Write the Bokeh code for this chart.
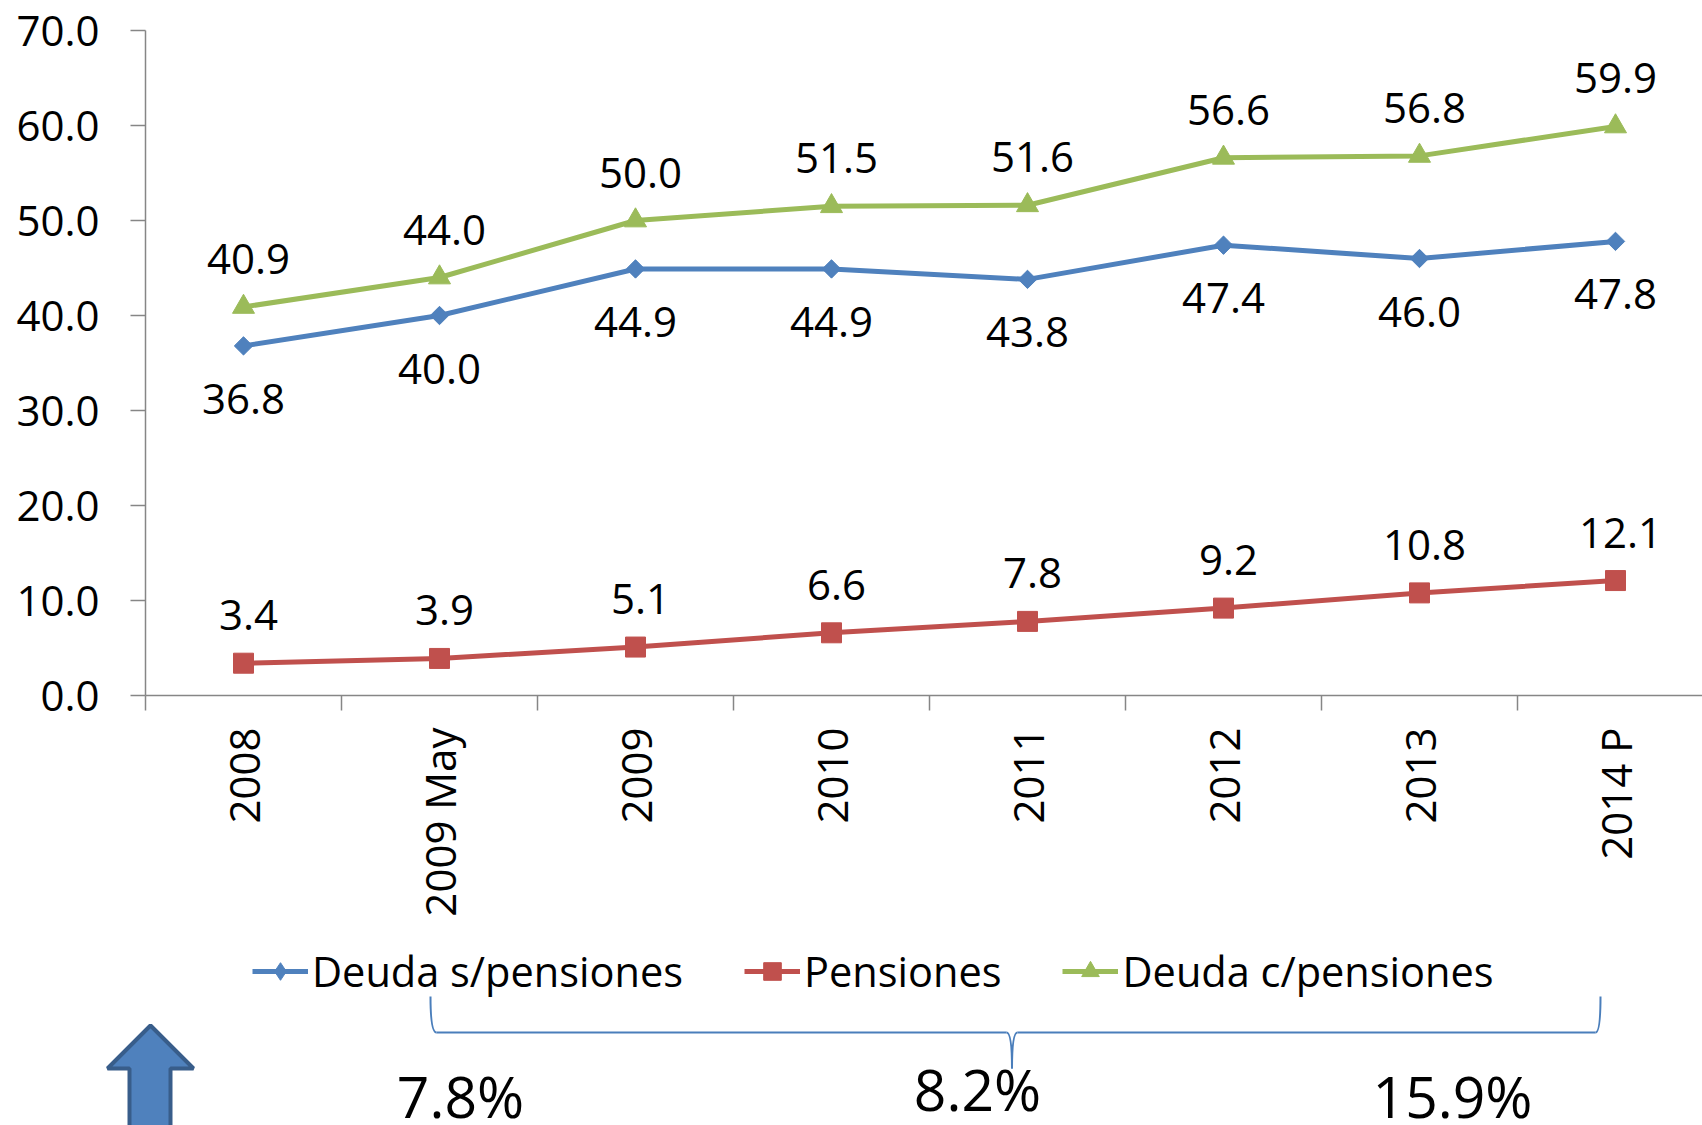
from math import pi
from bokeh.plotting import figure
from bokeh.models import LinearAxis, FixedTicker, Legend, LegendItem, Range1d, NumeralTickFormatter
from bokeh.core.properties import value
from bokeh.embed import file_html
from bokeh.resources import INLINE

categories = ["2008", "2009 May", "2009", "2010", "2011", "2012", "2013", "2014 P"]
deuda_s = [36.8, 40.0, 44.9, 44.9, 43.8, 47.4, 46.0, 47.8]
pensiones = [3.4, 3.9, 5.1, 6.6, 7.8, 9.2, 10.8, 12.1]
deuda_c = [40.9, 44.0, 50.0, 51.5, 51.6, 56.6, 56.8, 59.9]
growth_labels = ["7.8%", "8.2%", "15.9%"]
y_ticks = [0, 10, 20, 30, 40, 50, 60, 70]

FONT = "Open Sans"
BLUE, RED, GREEN = "#4F81BD", "#C0504D", "#9BBB59"
AXIS = "#868686"

# page pixel <-> data helpers (annotations only)
PX_X, PX_Y = 196.0, 9.5
X0, Y0 = 145.0, 695.0
W, H = 1702, 1125
fx = lambda px: (px - X0) / PX_X
fy = lambda py: (Y0 - py) / PX_Y

p = figure(width=W, height=H, output_backend="svg", toolbar_location=None,
           x_range=Range1d(fx(0), fx(W)), y_range=Range1d(fy(H), fy(0)),
           x_axis_location=None, y_axis_location=None,
           min_border_left=0, min_border_top=0, min_border_right=0, min_border_bottom=0,
           outline_line_color=None, background_fill_color="white", border_fill_color="white")
p.grid.visible = False

yax = LinearAxis(ticker=FixedTicker(ticks=y_ticks), bounds=(0, 70), fixed_location=0,
                 formatter=NumeralTickFormatter(format="0.0"),
                 axis_line_color=AXIS, axis_line_width=1.5,
                 major_tick_line_color=AXIS, major_tick_line_width=1.5,
                 major_tick_in=0, major_tick_out=15, minor_tick_line_color=None,
                 major_label_standoff=31,
                 major_label_text_font=FONT, major_label_text_font_size="42px",
                 major_label_text_color="#000000")
p.add_layout(yax, "left")

xticks = LinearAxis(ticker=FixedTicker(ticks=list(range(0, 9))), fixed_location=0, bounds=(0, fx(W)),
                    axis_line_color=AXIS, axis_line_width=1.5,
                    major_tick_line_color=AXIS, major_tick_line_width=1.5,
                    major_tick_in=0, major_tick_out=15, minor_tick_line_color=None,
                    major_label_text_font_size="0px", major_label_text_alpha=0)
p.add_layout(xticks, "below")

centers = [i + 0.5 for i in range(len(categories))]
xlabels = LinearAxis(ticker=FixedTicker(ticks=centers), fixed_location=0,
                     major_label_overrides={c: n for c, n in zip(centers, categories)},
                     axis_line_color=None, major_tick_line_color=None, minor_tick_line_color=None,
                     major_tick_in=0, major_tick_out=0,
                     major_label_orientation=pi / 2, major_label_standoff=32,
                     major_label_text_font=FONT, major_label_text_font_size="42px",
                     major_label_text_color="#000000")
p.add_layout(xlabels, "below")

l1 = p.line(centers, deuda_s, line_color=BLUE, line_width=5)
k1 = p.scatter(centers, deuda_s, marker="diamond", size=17, fill_color=BLUE, line_color=BLUE)
m1 = p.scatter(centers, deuda_s, marker="square", angle=pi / 4, size=13, fill_color=BLUE, line_color=BLUE)
l2 = p.line(centers, pensiones, line_color=RED, line_width=5)
m2 = p.scatter(centers, pensiones, marker="square", size=20, fill_color=RED, line_color=RED)
l3 = p.line(centers, deuda_c, line_color=GREEN, line_width=5)
m3 = p.scatter(centers, deuda_c, marker="triangle", size=22, fill_color=GREEN, line_color=GREEN)

def labels(vals, xoffs, yoff):
    p.text(centers, vals, text=[f"{v:.1f}" for v in vals], x_offset=xoffs, y_offset=yoff,
           text_align="center", text_baseline="middle", text_color="#000000",
           text_font=value(FONT), text_font_size="42px")

labels(deuda_s, 0, 53)
labels(pensiones, 5, -48)
labels(deuda_c, [5, 5, 5, 5, 5, 5, 5, 0], -48)

legend = Legend(items=[LegendItem(label="Deuda s/pensiones", renderers=[l1, k1]),
                       LegendItem(label="Pensiones", renderers=[l2, m2]),
                       LegendItem(label="Deuda c/pensiones", renderers=[l3, m3])],
                orientation="horizontal", location=(252, 126),
                border_line_color=None, background_fill_alpha=0,
                label_text_font=FONT, label_text_font_size="41.5px", label_text_color="#000000",
                glyph_width=56, glyph_height=44, label_standoff=4, spacing=61,
                margin=0, padding=0)
p.add_layout(legend, "center")

# brace
bx0 = [430, 1006, 1017, 1595]
by0 = [996, 1032, 1032, 1032]
bx1 = [436, 1011.5, 1011.5, 1600]
by1 = [1032, 1068, 1068, 996]
cx = [430, 1011.5, 1011.5, 1600]
cy = [1032, 1032, 1032, 1032]
BR = "#4A7EBB"
p.quadratic([fx(v) for v in bx0], [fy(v) for v in by0], [fx(v) for v in bx1], [fy(v) for v in by1],
            [fx(v) for v in cx], [fy(v) for v in cy], line_color=BR, line_width=2)
p.segment([fx(436), fx(1017)], [fy(1032)] * 2, [fx(1006), fx(1595)], [fy(1032)] * 2, line_color=BR, line_width=2)

# growth percentages
p.text([fx(460), fx(977), fx(1452)], [fy(1095), fy(1088), fy(1095)], text=growth_labels,
       text_align="center", text_baseline="middle", text_color="#000000",
       text_font=value(FONT), text_font_size="57px")

# up arrow
ax = [150, 193, 170, 170, 129, 129, 107]
ay = [1025, 1068, 1068, 1140, 1140, 1068, 1068]
p.patch([fx(v) for v in ax], [fy(v) for v in ay], fill_color=BLUE, line_color="#385D8A", line_width=4)

open("out.html", "w").write(file_html(p, INLINE))
